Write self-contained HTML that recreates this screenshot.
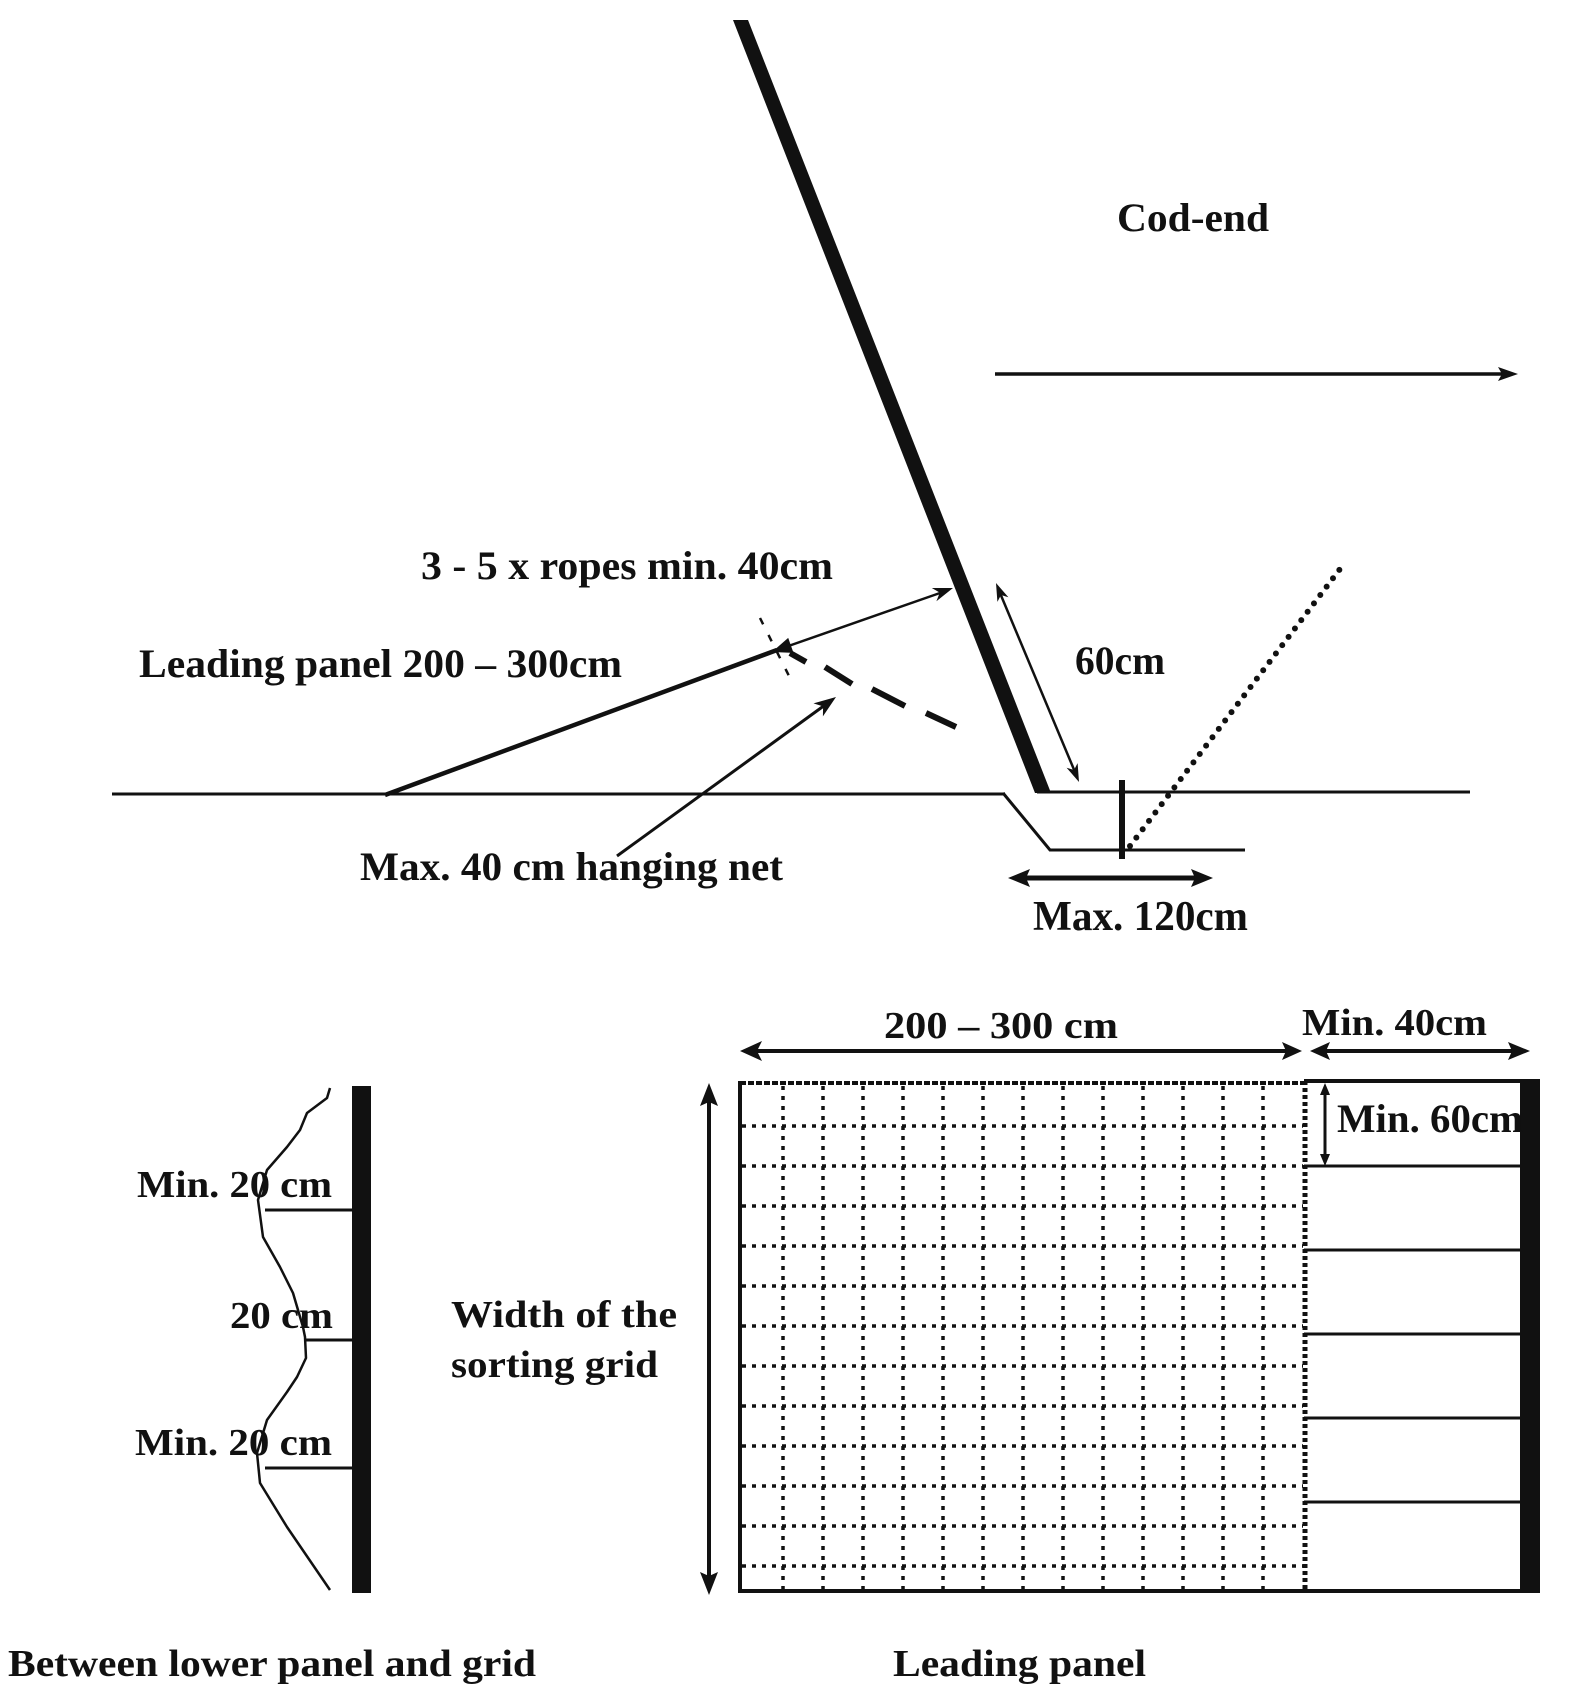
<!DOCTYPE html>
<html>
<head>
<meta charset="utf-8">
<style>
  html, body { margin: 0; padding: 0; background: #ffffff; }
  body { width: 1580px; height: 1708px; overflow: hidden; }
  svg { display: block; }
  text { font-family: "Liberation Serif", "DejaVu Serif", serif; font-weight: bold; fill: #111; }
</style>
</head>
<body>
<svg width="1580" height="1708" viewBox="0 0 1580 1708" xmlns="http://www.w3.org/2000/svg">
  <rect x="0" y="0" width="1580" height="1708" fill="#ffffff"/>

  <!-- ================= TOP FIGURE ================= -->
  <!-- thick grid bar -->
  <polygon points="733,20 748,20 1051,793 1035,793" fill="#111"/>

  <!-- baseline left -->
  <line x1="112" y1="794" x2="1005" y2="794" stroke="#111" stroke-width="3"/>
  <!-- slant down and lower line -->
  <polyline points="1003,793 1050,850 1245,850" fill="none" stroke="#111" stroke-width="3"/>
  <!-- baseline right -->
  <line x1="1037" y1="792" x2="1470" y2="792" stroke="#111" stroke-width="3"/>
  <!-- vertical tick -->
  <line x1="1122" y1="780" x2="1122" y2="859" stroke="#111" stroke-width="6"/>

  <!-- dotted line -->
  <line x1="1130" y1="846" x2="1340" y2="569" stroke="#111" stroke-width="6" stroke-linecap="round" stroke-dasharray="0 10.5"/>

  <!-- 60cm double arrow -->
  <line x1="1000" y1="593" x2="1075" y2="772" stroke="#111" stroke-width="2.5"/>
  <polygon points="1079,782 1066.6,767.7 1074,770 1077.6,763.1" fill="#111"/>
  <polygon points="996,583 997.4,601.9 1001,595 1008.4,597.3" fill="#111"/>

  <!-- Cod-end arrow -->
  <line x1="995" y1="374" x2="1505" y2="374" stroke="#111" stroke-width="3.5"/>
  <polygon points="1518,374 1498,367 1502,374 1498,381" fill="#111"/>

  <!-- leading panel line -->
  <line x1="385" y1="795" x2="777" y2="650" stroke="#111" stroke-width="4.5"/>
  <!-- rope arrow -->
  <line x1="777" y1="650" x2="940" y2="593" stroke="#111" stroke-width="2.5"/>
  <polygon points="953,588 936.4,601.2 939.8,592.6 931.8,588" fill="#111"/>
  <polygon points="772,652 793.5,652.9 788.2,637.9" fill="#111"/>

  <!-- small thin dashed cross mark -->
  <line x1="760" y1="618" x2="792" y2="682" stroke="#111" stroke-width="2.5" stroke-dasharray="7 12"/>

  <!-- thick dashed hanging net -->
  <g stroke="#111" stroke-width="6" stroke-linecap="butt">
    <line x1="790" y1="653" x2="806" y2="662"/>
    <line x1="825" y1="667" x2="852" y2="684"/>
    <line x1="872" y1="689" x2="905" y2="706"/>
    <line x1="926" y1="713" x2="956" y2="727"/>
  </g>

  <!-- hanging net arrow -->
  <line x1="617" y1="856" x2="825" y2="705" stroke="#111" stroke-width="3"/>
  <polygon points="836,697 822.9,716.4 823.1,706.4 813.5,703.4" fill="#111"/>

  <!-- Max 120 double arrow -->
  <line x1="1020" y1="878" x2="1200" y2="878" stroke="#111" stroke-width="5"/>
  <polygon points="1008,878 1030,869 1026,878 1030,887" fill="#111"/>
  <polygon points="1213,878 1191,869 1195,878 1191,887" fill="#111"/>

  <!-- top texts -->
  <text x="1117" y="231" font-size="40" textLength="152" lengthAdjust="spacingAndGlyphs">Cod-end</text>
  <text x="421" y="579" font-size="40" textLength="412" lengthAdjust="spacingAndGlyphs">3 - 5 x ropes min. 40cm</text>
  <text x="139" y="677" font-size="40" textLength="483" lengthAdjust="spacingAndGlyphs">Leading panel 200 – 300cm</text>
  <text x="1075" y="674" font-size="40" textLength="90" lengthAdjust="spacingAndGlyphs">60cm</text>
  <text x="360" y="880" font-size="40" textLength="423" lengthAdjust="spacingAndGlyphs">Max. 40 cm hanging net</text>
  <text x="1033" y="930" font-size="42" textLength="215" lengthAdjust="spacingAndGlyphs">Max. 120cm</text>

  <!-- ================= BOTTOM LEFT FIGURE ================= -->
  <rect x="352" y="1086" width="19" height="507" fill="#111"/>
  <polyline fill="none" stroke="#111" stroke-width="2.5" stroke-linejoin="round"
    points="330,1088 327,1098 307,1113 300,1130 287,1147 267,1170 258,1200 263,1237 280,1267 293,1293 303,1327 305,1337 306,1358 297,1377 287,1392 267,1420 257,1453 260,1483 287,1527 330,1590"/>
  <line x1="265" y1="1210" x2="352" y2="1210" stroke="#111" stroke-width="3"/>
  <line x1="305" y1="1340" x2="352" y2="1340" stroke="#111" stroke-width="3"/>
  <line x1="265" y1="1468" x2="352" y2="1468" stroke="#111" stroke-width="3"/>

  <text x="137" y="1197" font-size="38" textLength="195" lengthAdjust="spacingAndGlyphs">Min. 20 cm</text>
  <text x="230" y="1328" font-size="38" textLength="103" lengthAdjust="spacingAndGlyphs">20 cm</text>
  <text x="135" y="1455" font-size="38" textLength="197" lengthAdjust="spacingAndGlyphs">Min. 20 cm</text>
  <text x="8" y="1676" font-size="38" textLength="528" lengthAdjust="spacingAndGlyphs">Between lower panel and grid</text>

  <!-- ================= BOTTOM RIGHT FIGURE ================= -->
  <!-- dotted grid -->
  <g stroke="#111" stroke-width="3.5" stroke-dasharray="4 6">
    <line x1="783" y1="1086" x2="783" y2="1590"/>
    <line x1="823" y1="1086" x2="823" y2="1590"/>
    <line x1="863" y1="1086" x2="863" y2="1590"/>
    <line x1="903" y1="1086" x2="903" y2="1590"/>
    <line x1="943" y1="1086" x2="943" y2="1590"/>
    <line x1="983" y1="1086" x2="983" y2="1590"/>
    <line x1="1023" y1="1086" x2="1023" y2="1590"/>
    <line x1="1063" y1="1086" x2="1063" y2="1590"/>
    <line x1="1103" y1="1086" x2="1103" y2="1590"/>
    <line x1="1143" y1="1086" x2="1143" y2="1590"/>
    <line x1="1183" y1="1086" x2="1183" y2="1590"/>
    <line x1="1223" y1="1086" x2="1223" y2="1590"/>
    <line x1="1263" y1="1086" x2="1263" y2="1590"/>
    <line x1="742" y1="1126" x2="1303" y2="1126"/>
    <line x1="742" y1="1166" x2="1303" y2="1166"/>
    <line x1="742" y1="1206" x2="1303" y2="1206"/>
    <line x1="742" y1="1246" x2="1303" y2="1246"/>
    <line x1="742" y1="1286" x2="1303" y2="1286"/>
    <line x1="742" y1="1326" x2="1303" y2="1326"/>
    <line x1="742" y1="1366" x2="1303" y2="1366"/>
    <line x1="742" y1="1406" x2="1303" y2="1406"/>
    <line x1="742" y1="1446" x2="1303" y2="1446"/>
    <line x1="742" y1="1486" x2="1303" y2="1486"/>
    <line x1="742" y1="1526" x2="1303" y2="1526"/>
    <line x1="742" y1="1566" x2="1303" y2="1566"/>
  </g>
  <!-- grid borders -->
  <line x1="740" y1="1083" x2="1304" y2="1083" stroke="#111" stroke-width="4" stroke-dasharray="6 2"/>
  <line x1="740" y1="1081" x2="740" y2="1593" stroke="#111" stroke-width="4"/>
  <line x1="1305" y1="1081" x2="1305" y2="1591" stroke="#111" stroke-width="5" stroke-dasharray="4 3"/>
  <line x1="738" y1="1591" x2="1540" y2="1591" stroke="#111" stroke-width="4"/>

  <!-- right section -->
  <line x1="1304" y1="1081" x2="1540" y2="1081" stroke="#111" stroke-width="4"/>
  <g stroke="#111" stroke-width="3">
    <line x1="1304" y1="1166" x2="1520" y2="1166"/>
    <line x1="1304" y1="1250" x2="1520" y2="1250"/>
    <line x1="1304" y1="1334" x2="1520" y2="1334"/>
    <line x1="1304" y1="1418" x2="1520" y2="1418"/>
    <line x1="1304" y1="1502" x2="1520" y2="1502"/>
  </g>
  <rect x="1520" y="1080" width="20" height="513" fill="#111"/>

  <!-- Min 60 arrow -->
  <line x1="1325" y1="1090" x2="1325" y2="1160" stroke="#111" stroke-width="3"/>
  <polygon points="1325,1083 1320,1095 1330,1095" fill="#111"/>
  <polygon points="1325,1166 1320,1154 1330,1154" fill="#111"/>

  <!-- top dimension arrows -->
  <line x1="752" y1="1051" x2="1292" y2="1051" stroke="#111" stroke-width="4"/>
  <polygon points="740,1051 762,1041 757,1051 762,1061" fill="#111"/>
  <polygon points="1302,1051 1282,1042 1286,1051 1282,1060" fill="#111"/>
  <line x1="1320" y1="1051" x2="1520" y2="1051" stroke="#111" stroke-width="4"/>
  <polygon points="1310,1051 1330,1042 1326,1051 1330,1060" fill="#111"/>
  <polygon points="1530,1051 1508,1042 1512,1051 1508,1060" fill="#111"/>

  <!-- left vertical arrow -->
  <line x1="709" y1="1095" x2="709" y2="1583" stroke="#111" stroke-width="4"/>
  <polygon points="709,1083 700,1106 709,1102 718,1106" fill="#111"/>
  <polygon points="709,1595 700,1572 709,1576 718,1572" fill="#111"/>

  <!-- bottom right texts -->
  <text x="884" y="1038" font-size="38" textLength="234" lengthAdjust="spacingAndGlyphs">200 – 300 cm</text>
  <text x="1302" y="1035" font-size="38" textLength="185" lengthAdjust="spacingAndGlyphs">Min. 40cm</text>
  <text x="1337" y="1132" font-size="40" textLength="186" lengthAdjust="spacingAndGlyphs">Min. 60cm</text>
  <text x="451" y="1327" font-size="38" textLength="226" lengthAdjust="spacingAndGlyphs">Width of the</text>
  <text x="451" y="1377" font-size="38" textLength="207" lengthAdjust="spacingAndGlyphs">sorting grid</text>
  <text x="893" y="1676" font-size="38" textLength="253" lengthAdjust="spacingAndGlyphs">Leading panel</text>
</svg>
</body>
</html>
